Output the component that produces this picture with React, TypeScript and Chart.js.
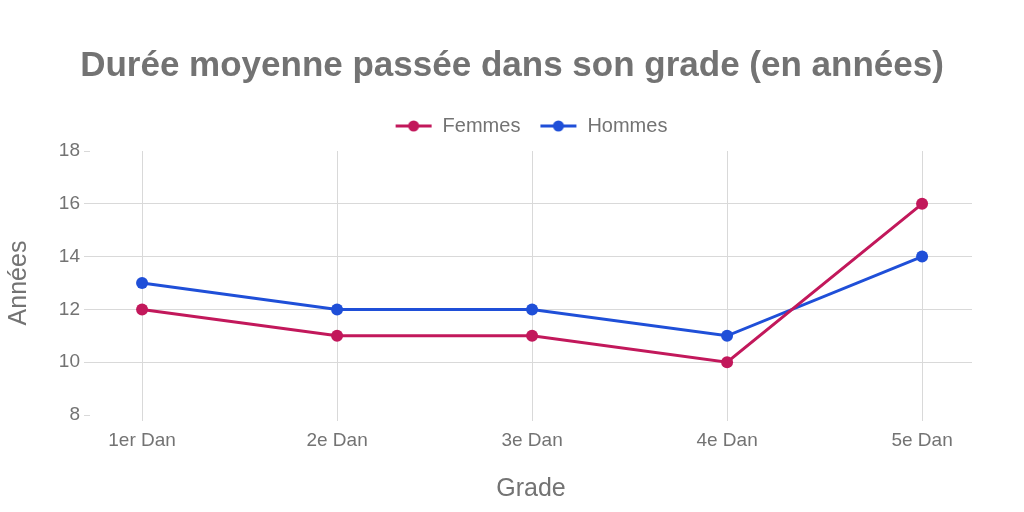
import { useEffect, useRef } from "react";
import { Chart, registerables } from "chart.js";

Chart.register(...registerables);

const grades = ["1er Dan", "2e Dan", "3e Dan", "4e Dan", "5e Dan"];
const femmes = [12, 11, 11, 10, 16];
const hommes = [13, 12, 12, 11, 14];

const FONT = "'Liberation Sans', Arial, Helvetica, sans-serif";
const TEXT = "#737373";
const GRID = "#d9d9d9";
const PINK = "#c2185b";
const BLUE = "#1f4fd8";

function legendSymbol(color: string) {
  const c = document.createElement("canvas");
  c.width = 38;
  c.height = 14;
  const ctx = c.getContext("2d");
  if (ctx) {
    ctx.strokeStyle = color;
    ctx.lineWidth = 3;
    ctx.beginPath();
    ctx.moveTo(1, 7);
    ctx.lineTo(37, 7);
    ctx.stroke();
    ctx.fillStyle = color;
    ctx.beginPath();
    ctx.arc(19, 7, 5.5, 0, Math.PI * 2);
    ctx.fill();
  }
  return c;
}

// title centred on the whole canvas, legend centred on the plot area (like plotly)
const recentre = {
  id: "recentre",
  afterLayout(chart: any) {
    const t = chart.titleBlock;
    if (t) {
      t.left = 0;
      t.right = chart.width;
      t.width = chart.width;
    }
    const l = chart.legend;
    if (l) {
      l.left = chart.chartArea.left;
      l.right = chart.chartArea.right;
      l.width = l.right - l.left;
      // lift the legend a little, leaving a gap above the plot
      l.top -= 5;
      l.bottom -= 5;
    }
  },
};

export default function App() {
  const canvasRef = useRef<HTMLCanvasElement>(null);

  useEffect(() => {
    if (!canvasRef.current) return;
    const series = [
      { label: "Femmes", values: femmes, color: PINK },
      { label: "Hommes", values: hommes, color: BLUE },
    ];
    const chart = new Chart(canvasRef.current, {
      type: "line",
      data: {
        datasets: series.map((s) => ({
          label: s.label,
          data: s.values.map((v, i) => ({ x: i, y: v })),
          borderColor: s.color,
          backgroundColor: s.color,
          borderWidth: 3,
          pointRadius: 6,
          pointHoverRadius: 6,
          pointBorderWidth: 0,
          tension: 0,
          pointStyle: "circle",
        })),
      },
      plugins: [recentre],
      options: {
        animation: false,
        responsive: false,
        layout: { padding: { left: 0, right: 52, bottom: 0, top: 0 } },
        plugins: {
          tooltip: { enabled: false },
          title: {
            display: true,
            text: "Durée moyenne passée dans son grade (en années)",
            color: TEXT,
            font: { family: FONT, size: 35, weight: "bold" },
            padding: { top: 45, bottom: 15 },
          },
          legend: {
            display: true,
            labels: {
              color: TEXT,
              font: { family: FONT, size: 20 },
              usePointStyle: true,
              pointStyleWidth: 38,
              padding: 19,
              generateLabels: () =>
                series.map((s, i) => ({
                  text: s.label,
                  datasetIndex: i,
                  fontColor: TEXT,
                  pointStyle: legendSymbol(s.color),
                  fillStyle: s.color,
                  strokeStyle: s.color,
                  lineWidth: 0,
                  hidden: false,
                })),
            },
          },
        },
        scales: {
          x: {
            type: "linear",
            min: -0.267,
            max: 4.256,
            border: { display: false },
            grid: { color: GRID, tickColor: GRID, tickLength: 6, lineWidth: 1 },
            afterFit: (scale: any) => {
              scale.height = 97;
            },
            ticks: {
              stepSize: 1,
              includeBounds: false,
              color: TEXT,
              font: { family: FONT, size: 19 },
              padding: 8,
              callback: (v) => grades[Number(v)] ?? "",
            },
            title: {
              display: true,
              text: "Grade",
              color: TEXT,
              font: { family: FONT, size: 25 },
              padding: { bottom: 8 },
            },
          },
          y: {
            min: 8,
            max: 18,
            border: { display: false },
            afterFit: (scale: any) => {
              scale.width = 90;
            },
            grid: {
              color: (ctx) =>
                ctx.tick && (ctx.tick.value === 8 || ctx.tick.value === 18)
                  ? "rgba(0,0,0,0)"
                  : GRID,
              tickColor: GRID,
              tickLength: 6,
            },
            ticks: {
              stepSize: 2,
              color: TEXT,
              font: { family: FONT, size: 19 },
              padding: 4,
            },
            title: {
              display: true,
              text: "Années",
              color: TEXT,
              font: { family: FONT, size: 25 },
              padding: { top: 4 },
            },
          },
        },
      },
    });
    return () => chart.destroy();
  }, []);

  return (
    <div style={{ position: "fixed", left: 0, top: 0, width: 1024, height: 512, background: "#fff" }}>
      <canvas ref={canvasRef} width={1024} height={512} style={{ width: 1024, height: 512 }} />
    </div>
  );
}
